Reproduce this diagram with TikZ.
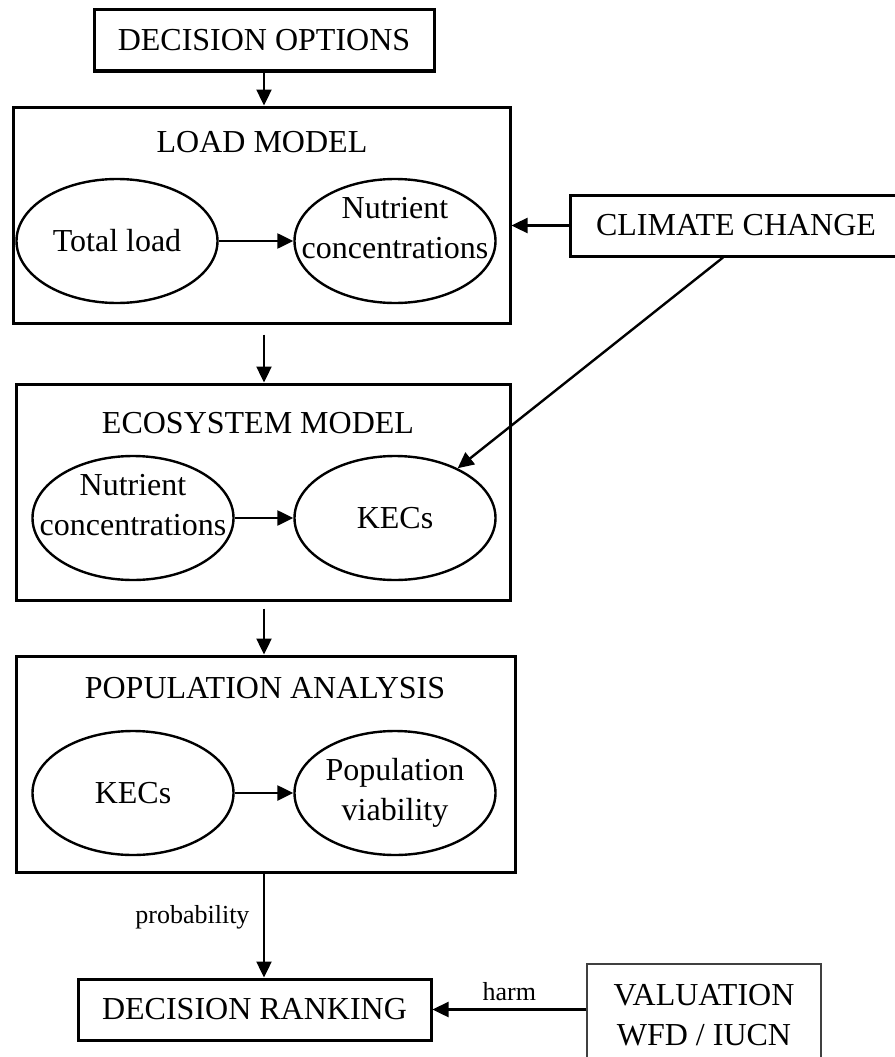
\documentclass[tikz,border=0pt]{standalone}
\usepackage{fontspec}
\setmainfont{Liberation Serif}
\usepackage{tikz}
\usetikzlibrary{arrows.meta,shapes.geometric}

\tikzset{
    box/.style={draw, line width=3pt, inner sep=0pt},
    bubble/.style={draw, ellipse, line width=2.4pt, minimum width=201pt, minimum height=124pt, inner sep=0pt, align=center},
    flow/.style={line width=2.4pt, -{Triangle[length=16pt,width=15pt]}},
    small/.style={font=\fontsize{26}{30}\selectfont},
}

\begin{document}
\begin{tikzpicture}[x=1pt, y=-1pt, font=\fontsize{32}{40}\selectfont]
    \useasboundingbox (0,0) rectangle (894,1057);
    % Decision options
    \node[box, minimum width=340pt, minimum height=61pt] (decopt) at (264,40.5) {DECISION OPTIONS};
    % Load model
    \node[box, minimum width=497pt, minimum height=216pt] (loadbox) at (261.5,215) {};
    \node (loadtitle) at (262,142) {LOAD MODEL};
    \node[bubble] (loadtot) at (117,241) {Total load};
    \node[bubble] (loadnut) at (395,241) {Nutrient\\\makebox[100pt]{concentrations}\\[-14pt]};
    \draw[flow] (loadtot) -- (loadnut);
    % Climate change
    \node[box, minimum width=332pt, minimum height=61pt] (climate) at (736,225.5) {CLIMATE CHANGE};
    % Ecosystem model
    \node[box, minimum width=494pt, minimum height=216pt] (ecobox) at (263,492) {};
    \node (ecotitle) at (258,423) {ECOSYSTEM MODEL};
    \node[bubble] (econut) at (133,518) {Nutrient\\\makebox[100pt]{concentrations}\\[-14pt]};
    \node[bubble] (ecokec) at (395,518) {KECs};
    \draw[flow] (econut) -- (ecokec);
    % Population analysis
    \node[box, minimum width=499pt, minimum height=216pt] (popbox) at (265.5,764) {};
    \node (poptitle) at (265,688) {POPULATION ANALYSIS};
    \node[bubble] (popkec) at (133,793) {KECs};
    \node[bubble] (popvia) at (395,793) {Population\\viability};
    \draw[flow] (popkec) -- (popvia);
    % Decision ranking and valuation
    \node[box, minimum width=353pt, minimum height=61pt] (rank) at (254.5,1009.5) {DECISION RANKING};
    \node[draw, line width=1.5pt, draw=black!75, inner sep=0pt, minimum width=234pt, minimum height=102pt, align=center] (value) at (704,1015) {VALUATION\\WFD / IUCN};
    % Links between modules
    \draw[flow] (decopt.south) -- (decopt.south |- loadbox.north);
    \draw[flow, shorten <=10pt] (decopt.south |- loadbox.south) -- (decopt.south |- ecobox.north);
    \draw[flow, shorten <=7pt] (decopt.south |- ecobox.south) -- (decopt.south |- popbox.north);
    \draw[flow] (decopt.south |- popbox.south) -- (decopt.south |- rank.north)
        node[small, pos=.42, left=10pt] {probability};
    \draw[flow] (climate.west) -- (climate.west -| loadbox.east);
    \draw[flow] ([xshift=-13pt]climate.south) -- (ecokec);
    \draw[flow] (value.west |- rank.east) -- (rank.east)
        node[small, midway, above=4pt] {harm};
\end{tikzpicture}
\end{document}
